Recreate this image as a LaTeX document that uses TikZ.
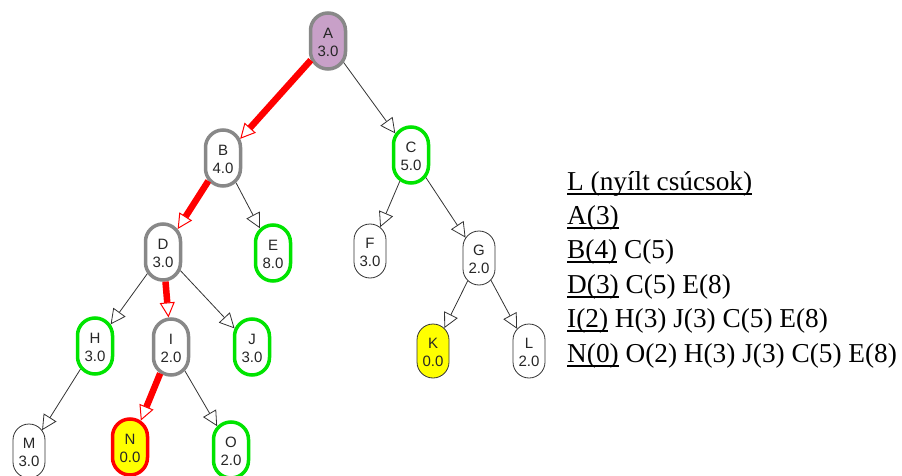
\documentclass[tikz,border=0pt]{standalone}
\usepackage{fontspec}
\setmainfont{Liberation Serif}
\setsansfont{Liberation Sans}
\usepackage{graphicx}
\usetikzlibrary{shapes.misc, arrows.meta}

\definecolor{zold}{RGB}{0,228,0}
\definecolor{szurke}{RGB}{136,136,136}
\definecolor{lila}{RGB}{200,160,200}
\definecolor{sarga}{RGB}{255,255,0}

% upright capsule = lying rounded rectangle turned by 90, text turned back
\newcommand{\csucs}[2]{\rotatebox{-90}{\raisebox{-2.5pt}[\height][\depth]{\begin{tabular}{@{}c@{}}#1\\#2\end{tabular}}}}
\newcommand{\alahuz}[1]{\setbox0\hbox{#1}\rlap{\rule[-5pt]{\wd0}{1.6pt}}\box0\relax}

\tikzstyle{vertex} = [rounded rectangle, rotate=90, inner xsep=-8.5pt, inner ysep=0pt, font=\sffamily\fontsize{15}{18}\selectfont, text=black!85, fill=white]
\tikzstyle{expanded} = [vertex, minimum width=39pt, minimum height=35pt, draw=szurke, line width=3.5pt]
\tikzstyle{frontier} = [vertex, minimum width=39pt, minimum height=35pt, draw=zold, line width=3.5pt]
\tikzstyle{unseen} = [vertex, minimum width=37pt, minimum height=32pt, draw=black!80, line width=0.8pt]
\tikzstyle{arrow} = [draw=black!80, line width=0.8pt, -{Triangle[length=15pt, width=15pt, line width=0.8pt, fill=white]}]
\tikzstyle{bestarrow} = [draw=red, line width=6.5pt, -{Triangle[length=15pt, width=15pt, line width=1pt, fill=white]}]
\tikzstyle{listline} = [anchor=base west, inner sep=0pt, font=\fontsize{27.3}{34}\selectfont]

\begin{document}
\begin{tikzpicture}[x=1pt, y=-1pt]
        \useasboundingbox (0,0) rectangle (902,476);

        % search tree
        \node (A) [expanded, fill=lila] at (328,41) {\csucs{A}{3.0}};
        \node (B) [expanded] at (223,158) {\csucs{B}{4.0}};
        \node (C) [frontier] at (411,155) {\csucs{C}{5.0}};
        \node (D) [expanded] at (163,252) {\csucs{D}{3.0}};
        \node (E) [frontier] at (273,253) {\csucs{E}{8.0}};
        \node (F) [unseen] at (370,251) {\csucs{F}{3.0}};
        \node (G) [unseen] at (479,258) {\csucs{G}{2.0}};
        \node (H) [frontier] at (95,346) {\csucs{H}{3.0}};
        \node (I) [expanded] at (171,347) {\csucs{I}{2.0}};
        \node (J) [frontier] at (252,347) {\csucs{J}{3.0}};
        \node (K) [unseen, fill=sarga] at (433,351) {\csucs{K}{0.0}};
        \node (L) [unseen] at (529,351) {\csucs{L}{2.0}};
        \node (M) [unseen] at (29,451) {\csucs{M}{3.0}};
        \node (N) [expanded, draw=red, fill=sarga] at (130,447) {\csucs{N}{0.0}};
        \node (O) [frontier] at (231,450) {\csucs{O}{2.0}};

        \draw[bestarrow] (A) -- (B);
        \draw[arrow] (A) -- (C);
        \draw[bestarrow] (B) -- (D);
        \draw[arrow] (B) -- (E);
        \draw[arrow] (C) -- (F);
        \draw[arrow] (C) -- (G);
        \draw[arrow] (D) -- (H);
        \draw[bestarrow] (D) -- (I);
        \draw[arrow] (D) -- (J);
        \draw[arrow] (G) -- (K);
        \draw[arrow] (G) -- (L);
        \draw[arrow] (H) -- (M);
        \draw[bestarrow] (I) -- (N);
        \draw[arrow] (I) -- (O);

        % open list
        \node (l0) [listline] at (567,190) {\alahuz{L (nyílt csúcsok)}};
        \node (l1) [listline] at (567,224) {\alahuz{A(3)}};
        \node (l2) [listline] at (567,258) {\alahuz{B(4)} C(5)};
        \node (l3) [listline] at (567,293) {\alahuz{D(3)} C(5) E(8)};
        \node (l4) [listline] at (567,327) {\alahuz{I(2)} H(3) J(3) C(5) E(8)};
        \node (l5) [listline] at (567,362) {\alahuz{N(0)} O(2) H(3) J(3) C(5) E(8)};
    \end{tikzpicture}
\end{document}
